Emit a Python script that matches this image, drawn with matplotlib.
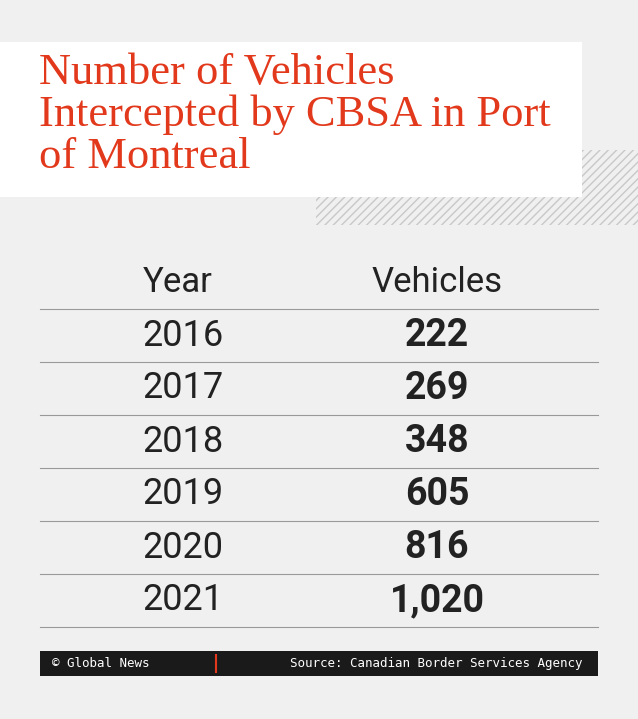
import matplotlib.pyplot as plt
from matplotlib.patches import Rectangle

years = ["2016", "2017", "2018", "2019", "2020", "2021"]
vehicles = [222, 269, 348, 605, 816, 1020]
title = "Number of Vehicles\nIntercepted by CBSA in Port\nof Montreal"
source = "Source: Canadian Border Services Agency"
credit = "© Global News"

W, H = 638, 719
fig = plt.figure(figsize=(W / 100, H / 100), dpi=100, facecolor="#f0f0f0")
ax = fig.add_axes([0, 0, 1, 1])
ax.set_xlim(0, W)
ax.set_ylim(H, 0)
ax.axis("off")

# hatched band behind the title box
ax.add_patch(Rectangle((316, 150), 322, 75, facecolor="none", edgecolor="#c8c8c8",
                       hatch="////", linewidth=0, zorder=1))
ax.add_patch(Rectangle((0, 42), 582, 155, facecolor="white", edgecolor="none", zorder=2))
ax.text(39, 53, title, color="#e2381b", fontsize=32, family="Liberation Serif",
        va="top", ha="left", linespacing=1.06, zorder=3)

# table
font = "Roboto"
ax.text(178, 282, "Year", fontsize=25, family=font, ha="center", va="center", color="#222")
ax.text(437, 282, "Vehicles", fontsize=25, family=font, ha="center", va="center", color="#222")
row_h = 53
top = 309
for i, (y, v) in enumerate(zip(years, vehicles)):
    yc = top + row_h * i + row_h / 2
    ax.plot([40, 598], [top + row_h * i] * 2, color="#999", lw=0.8)
    ax.text(183, yc, y, fontsize=26, family=font, ha="center", va="center", color="#222")
    ax.text(437, yc, f"{v:,}", fontsize=27, family=font, weight="bold",
            ha="center", va="center", color="#222")
ax.plot([40, 598], [top + row_h * len(years)] * 2, color="#999", lw=0.8)

# footer
ax.add_patch(Rectangle((40, 651), 558, 25, facecolor="#1a1a1a", edgecolor="none"))
ax.plot([216, 216], [655, 672], color="#e2381b", lw=1.5)
ax.text(52, 663.5, credit, color="white", fontsize=9, family="DejaVu Sans Mono",
        ha="left", va="center")
ax.text(582, 663.5, source, color="white", fontsize=9, family="DejaVu Sans Mono",
        ha="right", va="center")

fig.savefig("out.png", dpi=100, facecolor=fig.get_facecolor())
